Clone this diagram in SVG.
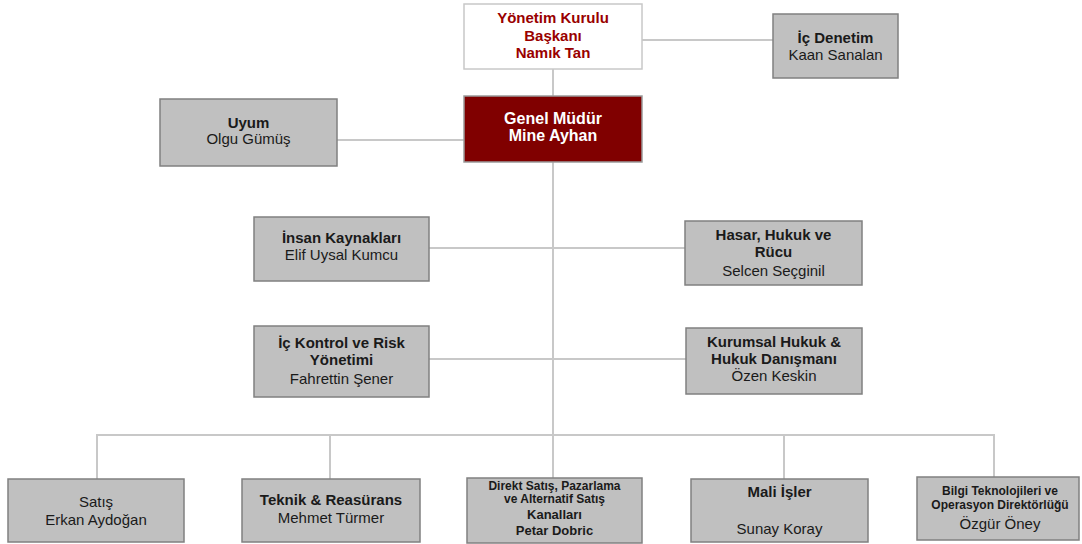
<svg xmlns="http://www.w3.org/2000/svg" width="1082" height="544" viewBox="0 0 1082 544">
<style>
.bg{fill:#ffffff}
.box{fill:#c0c0c0;stroke:#808080;stroke-width:1.5}
.top{fill:#ffffff;stroke:#c8c8c8;stroke-width:1.5}
.gm{fill:#800000;stroke:#9a9a9a;stroke-width:1.5}
.conn{stroke:#c8c8c8;stroke-width:2;fill:none}
text{font-family:"Liberation Sans",Arial,sans-serif;font-size:15px;text-anchor:middle;fill:#1a1a1a}
.b{font-weight:bold}
.red{fill:#990000;font-weight:bold}
.wh{fill:#ffffff;font-weight:bold;font-size:16px}
.sm{font-size:12px;font-weight:bold}
.md{font-size:13px;font-weight:bold}
</style>
<rect class="bg" x="0" y="0" width="1082" height="544"/>
<g id="connectors">
<line class="conn" x1="553" y1="69" x2="553" y2="478"/>
<line class="conn" x1="642" y1="40" x2="773" y2="40"/>
<line class="conn" x1="337" y1="140" x2="464" y2="140"/>
<line class="conn" x1="429" y1="248" x2="685" y2="248"/>
<line class="conn" x1="429" y1="359" x2="686" y2="359"/>
<polyline class="conn" points="97,479 97,435 994,435 994,477"/>
<line class="conn" x1="330" y1="435" x2="330" y2="479"/>
<line class="conn" x1="784" y1="435" x2="784" y2="479"/>
</g>
<g id="yk-baskani">
<rect class="top" x="464" y="4" width="178" height="65"/>
<text class="red" x="553" y="23">Yönetim Kurulu</text>
<text class="red" x="553" y="40.5">Başkanı</text>
<text class="red" x="553" y="58">Namık Tan</text>
</g>
<g id="genel-mudur">
<rect class="gm" x="464" y="96" width="178" height="66"/>
<text class="wh" x="553" y="124">Genel Müdür</text>
<text class="wh" x="553" y="141">Mine Ayhan</text>
</g>
<g id="ic-denetim">
<rect class="box" x="773" y="14" width="125" height="64"/>
<text class="b" x="835.5" y="43">İç Denetim</text>
<text x="835.5" y="60">Kaan  Sanalan</text>
</g>
<g id="uyum">
<rect class="box" x="160" y="99" width="177" height="67"/>
<text class="b" x="248.5" y="128">Uyum</text>
<text x="248.5" y="144">Olgu Gümüş</text>
</g>
<g id="insan-kaynaklari">
<rect class="box" x="254" y="217" width="175" height="64"/>
<text class="b" x="341.5" y="243">İnsan Kaynakları</text>
<text x="341.5" y="260">Elif Uysal Kumcu</text>
</g>
<g id="hasar">
<rect class="box" x="685" y="221" width="177" height="64"/>
<text class="b" x="773.5" y="240">Hasar, Hukuk ve</text>
<text class="b" x="773.5" y="257">Rücu</text>
<text x="773.5" y="276">Selcen Seçginil</text>
</g>
<g id="ic-kontrol">
<rect class="box" x="254" y="326" width="175" height="71"/>
<text class="b" x="341.5" y="348">İç Kontrol ve Risk</text>
<text class="b" x="341.5" y="365">Yönetimi</text>
<text x="341.5" y="384">Fahrettin Şener</text>
</g>
<g id="kurumsal-hukuk">
<rect class="box" x="686" y="328" width="176" height="66"/>
<text class="b" x="774" y="347">Kurumsal Hukuk &amp;</text>
<text class="b" x="774" y="364">Hukuk Danışmanı</text>
<text x="774" y="381">Özen Keskin</text>
</g>
<g id="satis">
<rect class="box" x="8" y="479" width="176" height="63"/>
<text x="96" y="507">Satış</text>
<text x="96" y="525">Erkan Aydoğan</text>
</g>
<g id="teknik">
<rect class="box" x="242" y="479" width="178" height="63"/>
<text class="b" x="331" y="505">Teknik &amp; Reasürans</text>
<text x="331" y="523">Mehmet Türmer</text>
</g>
<g id="direkt-satis">
<rect class="box" x="467" y="478" width="175" height="65"/>
<text class="sm" x="554.5" y="490">Direkt Satış, Pazarlama</text>
<text class="sm" x="554.5" y="503">ve Alternatif Satış</text>
<text class="md" x="554.5" y="519">Kanalları</text>
<text class="md" x="554.5" y="535">Petar Dobric</text>
</g>
<g id="mali-isler">
<rect class="box" x="691" y="479" width="177" height="63"/>
<text class="b" x="779.5" y="497">Mali İşler</text>
<text x="779.5" y="534">Sunay Koray</text>
</g>
<g id="bilgi-teknolojileri">
<rect class="box" x="917" y="477" width="162" height="63"/>
<text class="sm" x="1000" y="495">Bilgi Teknolojileri ve</text>
<text class="sm" x="1000" y="509">Operasyon Direktörlüğü</text>
<text x="1000" y="529">Özgür Öney</text>
</g>
</svg>
